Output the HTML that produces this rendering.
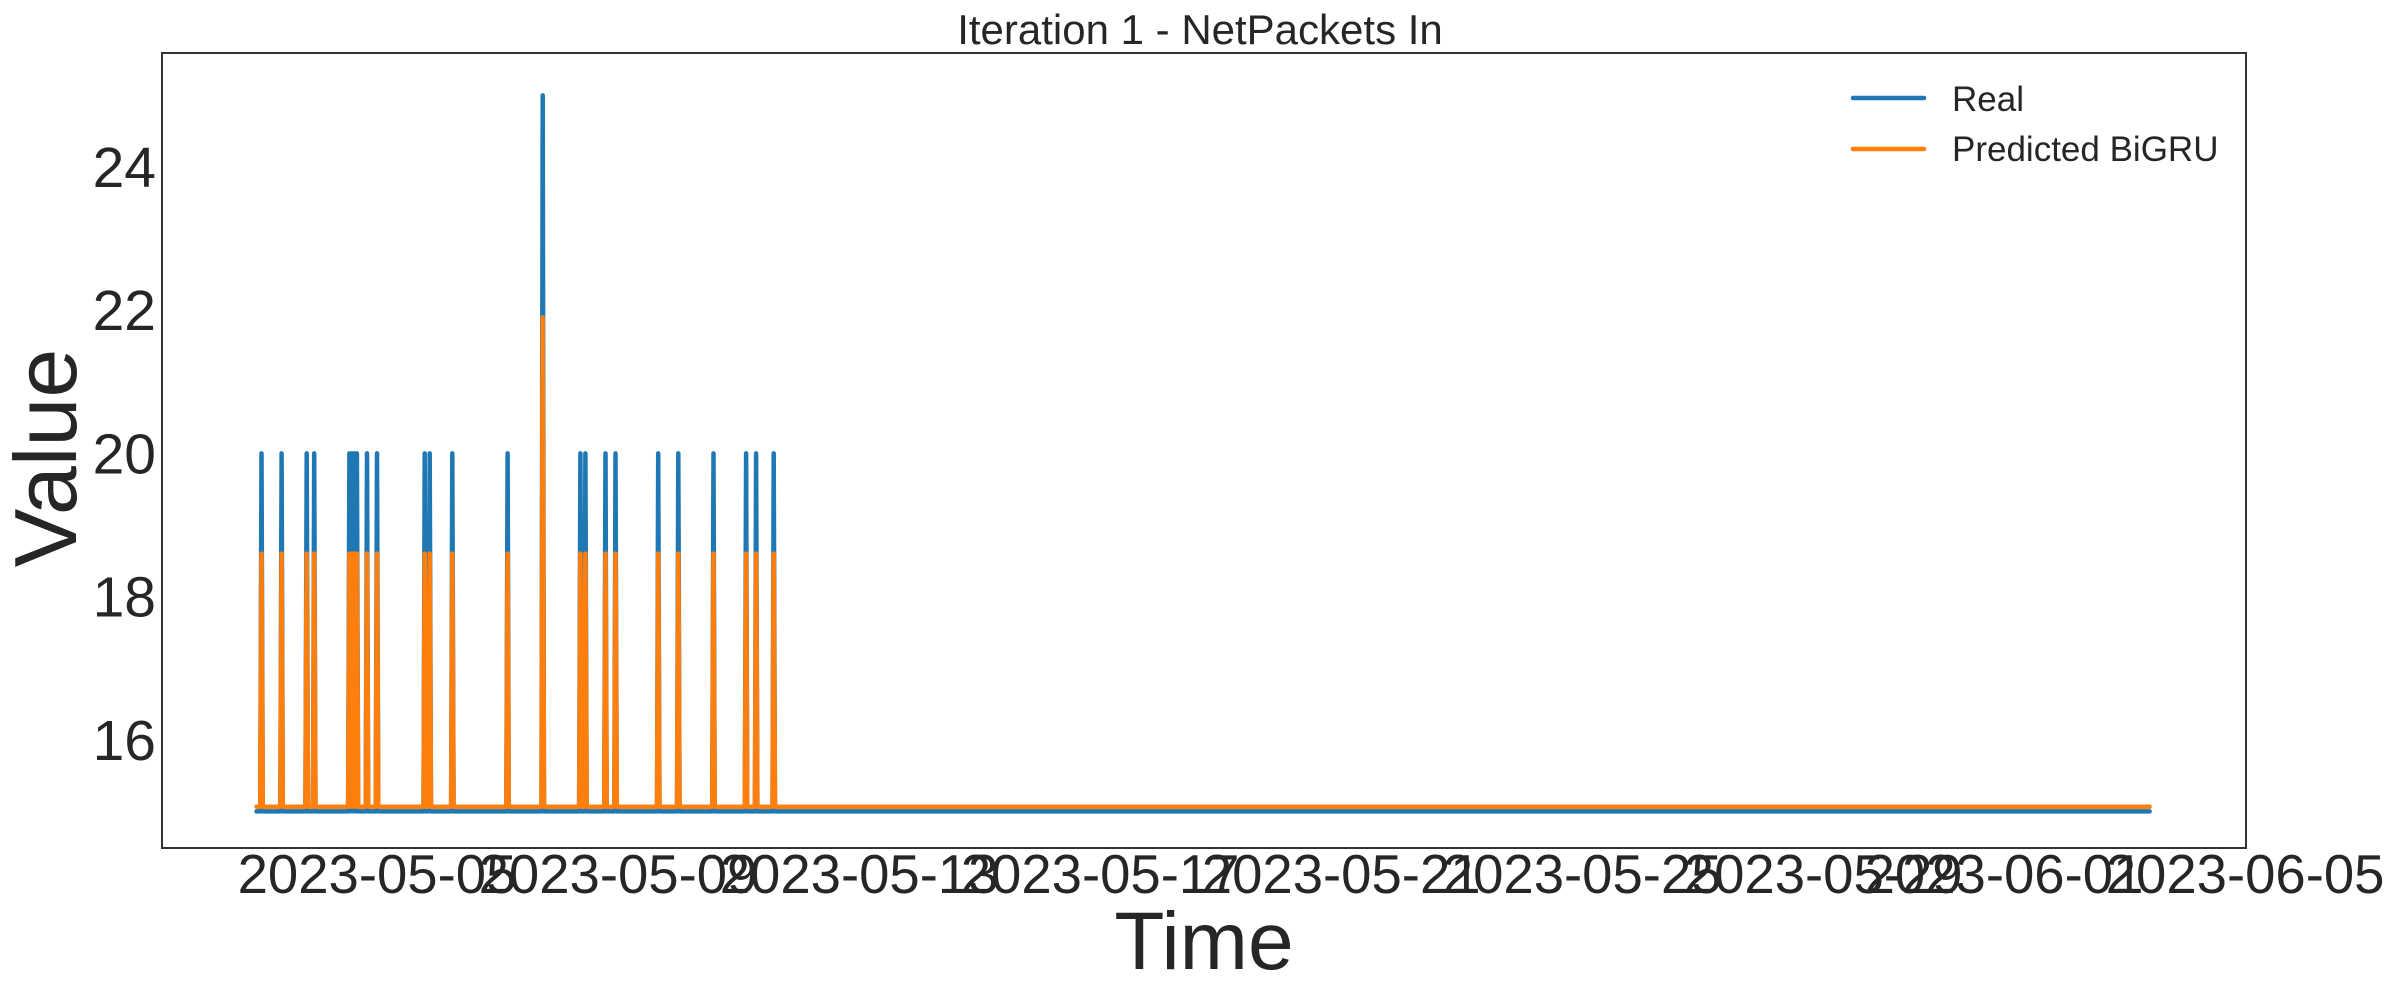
<!DOCTYPE html>
<html><head><meta charset="utf-8"><style>
html,body{margin:0;padding:0;background:#fff;}
svg text{font-family:"Liberation Sans",sans-serif;fill:#262626;}
</style></head><body>
<svg id="chart" width="2400" height="1000" viewBox="0 0 2400 1000">
<rect x="0" y="0" width="2400" height="1000" fill="#fff"/>
<text x="1200" y="44" font-size="42" text-anchor="middle">Iteration 1 - NetPackets In</text>
<g id="plot"></g>
<rect x="162" y="53" width="2084" height="795" fill="none" stroke="#333" stroke-width="2"/>
<g id="yticks"></g>
<g id="xticks"></g>
<text transform="translate(76,458) rotate(-90)" font-size="88" text-anchor="middle">Value</text>
<text x="1204" y="969" font-size="82" text-anchor="middle">Time</text>
<g>
<g>
<line x1="1853" y1="98" x2="1924" y2="98" stroke="#1f77b4" stroke-width="4.5" stroke-linecap="round"/>
<text x="1952" y="111" font-size="35">Real</text>
</g>
<g>
<line x1="1853" y1="149" x2="1924" y2="149" stroke="#ff7f0e" stroke-width="4.5" stroke-linecap="round"/>
<text x="1952" y="161" font-size="35">Predicted BiGRU</text>
</g>
</g>
</svg>
<script>
// Hours from 2023-05-03 00:00 at which spikes occur
const spikeHours = [2, 10, 20, 23, 37, 38, 39, 40, 44, 48, 67, 69, 78, 100, 114, 129, 131, 139, 143, 160, 168, 182, 195, 199, 206];
const realSpikeValues = [20,20,20,20,20,20,20,20,20,20,20,20,20,20,25,20,20,20,20,20,20,20,20,20,20];
const predSpikeValues = [18.6,18.6,18.6,18.6,18.6,18.6,18.6,18.6,18.6,18.6,18.6,18.6,18.6,18.6,21.9,18.6,18.6,18.6,18.6,18.6,18.6,18.6,18.6,18.6,18.6];
const realBase = 15;
const predBase = 15.065;
const endHour = 754;
const yTicks = [16, 18, 20, 22, 24];
const xTickLabels = ["2023-05-05","2023-05-09","2023-05-13","2023-05-17","2023-05-21","2023-05-25","2023-05-29","2023-06-01","2023-06-05"];

const NS = "http://www.w3.org/2000/svg";
const t0 = Date.UTC(2023,4,3);
const x05 = 377, pxPerDay = 60.26;
function xScale(h){ return x05 + (h/24 - 2) * pxPerDay; }
function xDate(s){ const p=s.split("-"); const d=(Date.UTC(+p[0],+p[1]-1,+p[2])-t0)/3600000; return xScale(d); }
function yScale(v){ return 167 + (24 - v) * 71.6; }

function series(base, vals){
  const pts=[[0,base]];
  spikeHours.forEach((h,i)=>{ pts.push([h-0.5,base]); pts.push([h,vals[i]]); pts.push([h+0.5,base]); });
  pts.push([endHour,base]);
  return pts.map(p=>xScale(p[0]).toFixed(1)+","+yScale(p[1]).toFixed(1)).join(" ");
}
const plot=document.getElementById("plot");
[["real-line","#1f77b4",realBase,realSpikeValues],["predicted-line","#ff7f0e",predBase,predSpikeValues]].forEach(s=>{
  const pl=document.createElementNS(NS,"polyline");
  pl.setAttribute("points",series(s[2],s[3]));
  pl.setAttribute("fill","none");
  pl.setAttribute("stroke",s[1]);
  pl.setAttribute("stroke-width","4.5");
  pl.setAttribute("stroke-linejoin","round");
  pl.setAttribute("stroke-linecap","round");
  
  
  plot.appendChild(pl);
});
const yg=document.getElementById("yticks");
yTicks.forEach(v=>{
  const t=document.createElementNS(NS,"text");
  t.setAttribute("x","156"); t.setAttribute("y",(yScale(v)+20).toFixed(1));
  t.setAttribute("font-size","57"); t.setAttribute("text-anchor","end");
  t.textContent=String(v);
  
  
  yg.appendChild(t);
});
const xg=document.getElementById("xticks");
xTickLabels.forEach(s=>{
  const t=document.createElementNS(NS,"text");
  t.setAttribute("x",xDate(s).toFixed(1)); t.setAttribute("y","893");
  t.setAttribute("font-size","54.5"); t.setAttribute("text-anchor","middle");
  t.textContent=s;
  
  
  xg.appendChild(t);
});
</script>
</body></html>
